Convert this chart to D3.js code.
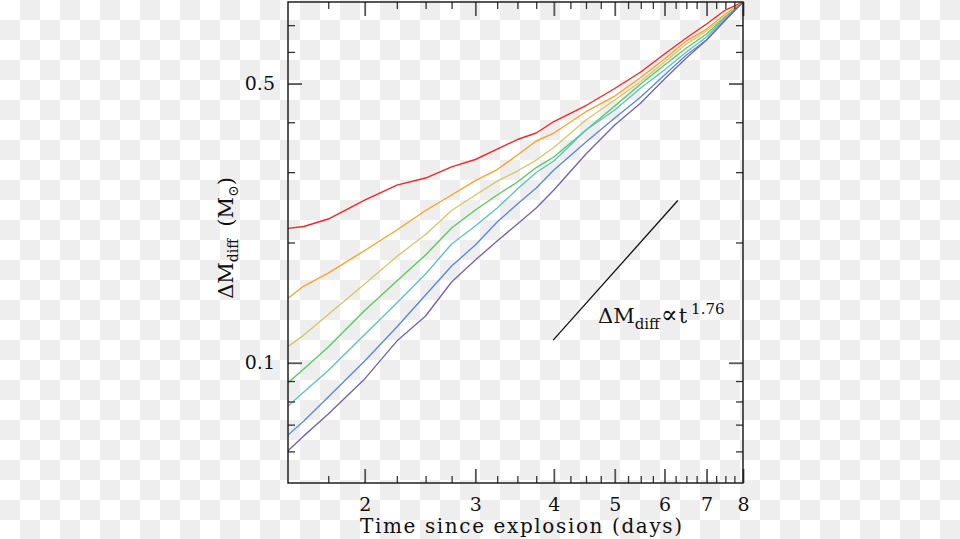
<!DOCTYPE html>
<html>
<head>
<meta charset="utf-8">
<script src="https://cdn.jsdelivr.net/npm/d3@7/dist/d3.min.js"></script>
<style>
  html, body { margin: 0; padding: 0; }
  body {
    width: 960px; height: 539px; overflow: hidden;
    background: repeating-conic-gradient(#eeeeee 0 25%, #ffffff 0 50%) 0 0 / 40px 40px;
  }
  svg { display: block; }
  text { font-family: "DejaVu Serif", "Liberation Serif", serif; fill: #111; }
</style>
</head>
<body>
<svg id="chart" width="960" height="539"></svg>
<script>
// ---- data ----
const days = [1.51, 1.6, 1.75, 2, 2.25, 2.5, 2.75, 3, 3.25, 3.5, 3.75, 4, 4.5, 5, 5.5, 6, 6.5, 7, 7.5, 8];
const seriesRed    = [0.2170, 0.2193, 0.2290, 0.2555, 0.2785, 0.2900, 0.3094, 0.3227, 0.3428, 0.3621, 0.3759, 0.4017, 0.4405, 0.4859, 0.5343, 0.5927, 0.6499, 0.7046, 0.7638, 0.7998];
const seriesOrange = [0.1450, 0.1556, 0.1677, 0.1910, 0.2149, 0.2405, 0.2630, 0.2858, 0.3046, 0.3311, 0.3590, 0.3759, 0.4250, 0.4652, 0.5176, 0.5759, 0.6388, 0.6845, 0.7464, 0.7998];
const seriesYellow = [0.1097, 0.1173, 0.1321, 0.1574, 0.1845, 0.2094, 0.2405, 0.2630, 0.2850, 0.3020, 0.3217, 0.3458, 0.4052, 0.4547, 0.5059, 0.5660, 0.6278, 0.6768, 0.7378, 0.7998];
const seriesGreen  = [0.0891, 0.0965, 0.1095, 0.1351, 0.1602, 0.1861, 0.2174, 0.2412, 0.2630, 0.2834, 0.3081, 0.3274, 0.3825, 0.4392, 0.4986, 0.5563, 0.6136, 0.6652, 0.7336, 0.7998];
const seriesTeal   = [0.0779, 0.0845, 0.0956, 0.1177, 0.1411, 0.1668, 0.1983, 0.2199, 0.2440, 0.2722, 0.2994, 0.3199, 0.3825, 0.4292, 0.4872, 0.5405, 0.5996, 0.6537, 0.7294, 0.7998];
const seriesBlue   = [0.0659, 0.0715, 0.0821, 0.1010, 0.1229, 0.1478, 0.1746, 0.1971, 0.2251, 0.2497, 0.2738, 0.3037, 0.3569, 0.4099, 0.4626, 0.5251, 0.5893, 0.6426, 0.7211, 0.7998];
const seriesPurple = [0.0602, 0.0656, 0.0744, 0.0911, 0.1133, 0.1309, 0.1593, 0.1808, 0.2017, 0.2225, 0.2440, 0.2706, 0.3331, 0.3937, 0.4468, 0.5131, 0.5791, 0.6426, 0.7211, 0.7998];
const seriesColors = ["#ff2222", "#ffa126", "#d6c76c", "#5acb5a", "#5ec2c8", "#5d89d6", "#7865ae"];

const xMajorTicks = [2, 3, 4, 5, 6, 7, 8];
const xMinorTicks = [1.75, 2.25, 2.5, 2.75, 3.25, 3.5, 3.75, 4.25, 4.5, 4.75, 5.25, 5.5, 5.75, 6.25, 6.5, 6.75, 7.25, 7.5, 7.75];
const yMajorTicks = [0.1, 0.5];
const yMinorTicks = [0.06, 0.07, 0.08, 0.09, 0.2, 0.3, 0.4, 0.6, 0.7];
const xDomain = [1.51, 8];
const yDomain = [0.05, 0.8];

const slopeT = [3.99, 6.3];
const slopeM = [0.1139, 0.2547];

// ---- layout ----
const L = 288, R = 743, T = 2, B = 483;
const svg = d3.select("#chart");
const x = d3.scaleLog().domain(xDomain).range([L, R]);
const y = d3.scaleLog().domain(yDomain).range([B, T]);

svg.append("defs").append("clipPath").attr("id", "clip")
  .append("rect").attr("x", L).attr("y", T).attr("width", R - L).attr("height", B - T);

// series lines
const allSeries = [seriesRed, seriesOrange, seriesYellow, seriesGreen, seriesTeal, seriesBlue, seriesPurple];
const line = d3.line().x((d, i) => x(days[i])).y(d => y(d)).curve(d3.curveLinear);
const gLines = svg.append("g").attr("clip-path", "url(#clip)");
allSeries.forEach((s, k) => {
  gLines.append("path").datum(s)
    .attr("d", line)
    .attr("fill", "none")
    .attr("stroke", seriesColors[k])
    .attr("stroke-width", 1.4)
    .attr("stroke-linejoin", "round");
});

// slope line
svg.append("path")
  .datum(slopeT.map((t, i) => [t, slopeM[i]]))
  .attr("d", d3.line().x(d => x(d[0])).y(d => y(d[1])))
  .attr("stroke", "#111").attr("stroke-width", 1.3).attr("fill", "none");

// axes via d3 axis generators (ticks inward)
const fmtNone = () => "";
function addAxis(gen, tx, ty) {
  const g = svg.append("g").attr("transform", `translate(${tx},${ty})`).call(gen);
  g.select(".domain").remove();
  g.selectAll(".tick line").attr("stroke", "#333").attr("stroke-width", 1.3);
  return g;
}
// bottom
addAxis(d3.axisBottom(x).tickValues(xMinorTicks).tickSize(-7).tickFormat(fmtNone), 0, B);
const gxb = addAxis(d3.axisBottom(x).tickValues(xMajorTicks).tickSize(-14).tickPadding(28).tickFormat(d3.format("d")), 0, B);
gxb.selectAll(".tick line").attr("stroke", "#555").attr("stroke-width", 1.8);
gxb.selectAll("text").attr("font-size", 19).attr("font-family", "DejaVu Serif").attr("fill", "#111").attr("dy", "0");
// top
addAxis(d3.axisTop(x).tickValues(xMinorTicks).tickSize(-7).tickFormat(fmtNone), 0, T);
const gxt = addAxis(d3.axisTop(x).tickValues(xMajorTicks).tickSize(-14).tickFormat(fmtNone), 0, T);
gxt.selectAll(".tick line").attr("stroke", "#555").attr("stroke-width", 1.8);
// left
addAxis(d3.axisLeft(y).tickValues(yMinorTicks).tickSize(-7).tickFormat(fmtNone), L, 0);
const gyl = addAxis(d3.axisLeft(y).tickValues(yMajorTicks).tickSize(-14).tickPadding(13).tickFormat(d3.format(".1f")), L, 0);
gyl.selectAll(".tick line").attr("stroke", "#555").attr("stroke-width", 1.8);
gyl.selectAll("text").attr("font-size", 19).attr("font-family", "DejaVu Serif").attr("fill", "#111");
// right
addAxis(d3.axisRight(y).tickValues(yMinorTicks).tickSize(-7).tickFormat(fmtNone), R, 0);
const gyr = addAxis(d3.axisRight(y).tickValues(yMajorTicks).tickSize(-14).tickFormat(fmtNone), R, 0);
gyr.selectAll(".tick line").attr("stroke", "#555").attr("stroke-width", 1.8);

// frame
svg.append("rect").attr("x", L).attr("y", T).attr("width", R - L).attr("height", B - T)
  .attr("fill", "none").attr("stroke", "#111").attr("stroke-width", 1.4);

// x label
svg.append("text").attr("x", 521).attr("y", 533).attr("text-anchor", "middle")
  .attr("font-size", 20).attr("textLength", 322).attr("lengthAdjust", "spacing")
  .text("Time since explosion (days)");

// y label
const yl = svg.append("text").attr("transform", "translate(233,238) rotate(-90)")
  .attr("text-anchor", "middle").attr("font-size", 21);
yl.append("tspan").text("ΔM");
yl.append("tspan").attr("font-size", 14).attr("dy", 5).text("diff");
yl.append("tspan").attr("dy", -5).attr("dx", 12).text("(M");
yl.append("tspan").attr("font-size", 14).attr("dy", 5).text("⊙");
yl.append("tspan").attr("dy", -5).text(")");

// annotation
const an = svg.append("text").attr("x", 598).attr("y", 323).attr("font-size", 21);
an.append("tspan").text("ΔM");
an.append("tspan").attr("font-size", 15).attr("dy", 6).text("diff");
an.append("tspan").attr("dy", -6).attr("font-size", 25).attr("dx", 1).text("∝");
an.append("tspan").attr("dx", 1).text("t");
an.append("tspan").attr("font-size", 15).attr("dy", -9).attr("dx", 4).text("1.76");
</script>
</body>
</html>
